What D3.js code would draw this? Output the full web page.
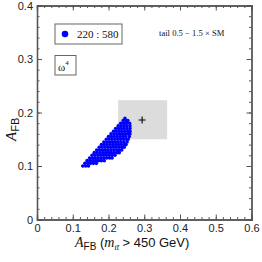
<!DOCTYPE html>
<html>
<head>
<meta charset="utf-8">
<script src="https://cdn.jsdelivr.net/npm/d3@7"></script>
<style>
  body { margin: 0; background: #fff; }
  svg { display: block; }
</style>
</head>
<body>
<div id="chart"></div>
<script>
// tick values
var xTicks = [0, 0.1, 0.2, 0.3, 0.4, 0.5, 0.6];
var yTicks = [0, 0.1, 0.2, 0.3, 0.4];
var xTickLabels = ["0", "0.1", "0.2", "0.3", "0.4", "0.5", "0.6"];
var yTickLabels = ["0", "0.1", "0.2", "0.3", "0.4"];

// scan points, one row per A_FB value: [y, [x values]]
var cloudRows = [
  [0.100, [0.128, 0.136, 0.144]],
  [0.105, [0.134, 0.142, 0.150, 0.158, 0.166]],
  [0.110, [0.140, 0.148, 0.156, 0.164, 0.172, 0.180, 0.188]],
  [0.115, [0.147, 0.155, 0.163, 0.171, 0.179, 0.187, 0.195, 0.203, 0.210]],
  [0.120, [0.154, 0.162, 0.170, 0.178, 0.186, 0.194, 0.202, 0.210, 0.218]],
  [0.125, [0.160, 0.168, 0.176, 0.184, 0.192, 0.200, 0.208, 0.216, 0.224, 0.230]],
  [0.130, [0.167, 0.175, 0.183, 0.191, 0.199, 0.207, 0.215, 0.223, 0.231, 0.237]],
  [0.135, [0.174, 0.182, 0.190, 0.198, 0.206, 0.214, 0.222, 0.230, 0.238, 0.244]],
  [0.140, [0.180, 0.188, 0.196, 0.204, 0.212, 0.220, 0.228, 0.236, 0.244, 0.249]],
  [0.145, [0.187, 0.195, 0.203, 0.211, 0.219, 0.227, 0.235, 0.243, 0.252]],
  [0.150, [0.194, 0.202, 0.210, 0.218, 0.226, 0.234, 0.242, 0.250, 0.255]],
  [0.155, [0.200, 0.208, 0.216, 0.224, 0.232, 0.240, 0.248, 0.258]],
  [0.160, [0.207, 0.215, 0.223, 0.231, 0.239, 0.247, 0.255, 0.260]],
  [0.165, [0.214, 0.222, 0.230, 0.238, 0.246, 0.254, 0.260]],
  [0.170, [0.220, 0.228, 0.236, 0.244, 0.252, 0.260]],
  [0.175, [0.227, 0.235, 0.243, 0.251, 0.260]],
  [0.180, [0.234, 0.242, 0.250, 0.259]],
  [0.185, [0.241, 0.248, 0.254]],
  [0.189, [0.246]]
];

// measured region (gray box) and its central value
var measBox = { x0: 0.227, x1: 0.364, y0: 0.150, y1: 0.223 };
var measPoint = [0.294, 0.186];

var legendLabel = "220 : 580";
var modelLabel = "ω";
var tailLabel = "tail 0.5 − 1.5 × SM";

var width = 262, height = 262;
var padL = 37, padR = 251.5, padT = 5.5, padB = 219.5;
var axisColor = "#555";

var svg = d3.select("#chart").append("svg")
    .attr("width", width)
    .attr("height", height);

var x = d3.scaleLinear().domain([0, 0.6]).range([padL, padR]);
var y = d3.scaleLinear().domain([0, 0.4]).range([padB, padT]);

// gray measured box
svg.append("rect")
    .attr("x", x(measBox.x0))
    .attr("y", y(measBox.y1))
    .attr("width", x(measBox.x1) - x(measBox.x0))
    .attr("height", y(measBox.y0) - y(measBox.y1))
    .attr("fill", "#dcdcdc");

// scatter
var pts = [];
cloudRows.forEach(function(r) {
    r[1].forEach(function(v) { pts.push([v, r[0]]); });
});
svg.append("g").selectAll("circle")
    .data(pts).enter().append("circle")
    .attr("cx", function(d) { return x(d[0]); })
    .attr("cy", function(d) { return y(d[1]); })
    .attr("r", 1.8)
    .attr("fill", "#0000ff");

// plus marker
svg.append("path")
    .attr("d", "M" + (x(measPoint[0]) - 3.5) + "," + y(measPoint[1]) + "h7" +
               "M" + x(measPoint[0]) + "," + (y(measPoint[1]) - 3.5) + "v7")
    .attr("stroke", "#000").attr("stroke-width", 1.1);

// axes (ticks inward on all four sides)
var minorX = d3.range(0, 0.6001, 0.02);
var minorY = d3.range(0, 0.4001, 0.02);

function addAxis(axis, tr) {
    var g = svg.append("g").attr("transform", tr).call(axis);
    g.selectAll("path,line").attr("stroke", axisColor);
    g.select(".domain").attr("stroke-width", 1.3);
    return g;
}

function minor(axis, vals) {
    return axis.tickValues(vals).tickSize(-2.5).tickFormat("");
}

addAxis(minor(d3.axisBottom(x), minorX), "translate(0," + padB + ")");
addAxis(minor(d3.axisTop(x), minorX), "translate(0," + padT + ")");
addAxis(minor(d3.axisLeft(y), minorY), "translate(" + padL + ",0)");
addAxis(minor(d3.axisRight(y), minorY), "translate(" + padR + ",0)");

var xb = addAxis(d3.axisBottom(x).tickValues(xTicks).tickSize(-5).tickPadding(5)
    .tickFormat(function(d, i) { return xTickLabels[i]; }), "translate(0," + padB + ")");
addAxis(d3.axisTop(x).tickValues(xTicks).tickSize(-5).tickFormat(""), "translate(0," + padT + ")");
var yl = addAxis(d3.axisLeft(y).tickValues(yTicks).tickSize(-5).tickPadding(4)
    .tickFormat(function(d, i) { return yTickLabels[i]; }), "translate(" + padL + ",0)");
addAxis(d3.axisRight(y).tickValues(yTicks).tickSize(-5).tickFormat(""), "translate(" + padR + ",0)");

[xb, yl].forEach(function(g) {
    g.selectAll("text")
        .attr("font-family", "Liberation Sans, Arial, sans-serif")
        .attr("font-size", 11)
        .attr("fill", "#222");
});

// legend box
svg.append("rect")
    .attr("x", 55).attr("y", 24).attr("width", 67).attr("height", 20)
    .attr("fill", "#fff").attr("stroke", "#666").attr("stroke-width", 1);
svg.append("circle").attr("cx", 65).attr("cy", 34).attr("r", 3.3).attr("fill", "#0000ff");
svg.append("text")
    .attr("x", 77).attr("y", 38)
    .attr("font-family", "Liberation Serif, Times New Roman, serif")
    .attr("font-size", 11).attr("fill", "#111")
    .text(legendLabel);

// model box
svg.append("rect")
    .attr("x", 55).attr("y", 55.5).attr("width", 21).attr("height", 19.5)
    .attr("fill", "#fff").attr("stroke", "#666").attr("stroke-width", 1);
var om = svg.append("text")
    .attr("x", 58).attr("y", 71)
    .attr("font-family", "Liberation Serif, Times New Roman, serif")
    .attr("font-size", 11).attr("fill", "#111");
om.append("tspan").text(modelLabel);
om.append("tspan").attr("dy", -6).attr("font-size", 7).text("4");

// tail label
svg.append("text")
    .attr("x", 159).attr("y", 35.5)
    .attr("font-family", "Liberation Serif, Times New Roman, serif")
    .attr("font-size", 8.6).attr("fill", "#111")
    .text(tailLabel);

// x axis title
var xt = svg.append("text")
    .attr("x", 75).attr("y", 247)
    .attr("font-family", "Liberation Sans, Arial, sans-serif")
    .attr("font-size", 13).attr("fill", "#111");
xt.append("tspan").attr("font-family", "Liberation Serif, serif").attr("font-style", "italic").attr("font-size", 14).text("A");
xt.append("tspan").attr("dy", 3).attr("font-size", 10).text("FB");
xt.append("tspan").attr("dy", -3).text(" (");
xt.append("tspan").attr("font-family", "Liberation Serif, serif").attr("font-style", "italic").attr("font-size", 14).text("m");
xt.append("tspan").attr("dy", 3).attr("font-size", 8)
    .attr("font-family", "Liberation Serif, serif").attr("font-style", "italic").text("tt̄");
xt.append("tspan").attr("dy", -3).text(" > 450 GeV)");

// y axis title
var ytl = svg.append("text")
    .attr("transform", "translate(16,141) rotate(-90)")
    .attr("font-family", "Liberation Sans, Arial, sans-serif")
    .attr("font-size", 13).attr("fill", "#111");
ytl.append("tspan").attr("font-family", "Liberation Serif, serif").attr("font-style", "italic").attr("font-size", 15).text("A");
ytl.append("tspan").attr("dy", 3).attr("font-size", 11).text("FB");
</script>
</body>
</html>
